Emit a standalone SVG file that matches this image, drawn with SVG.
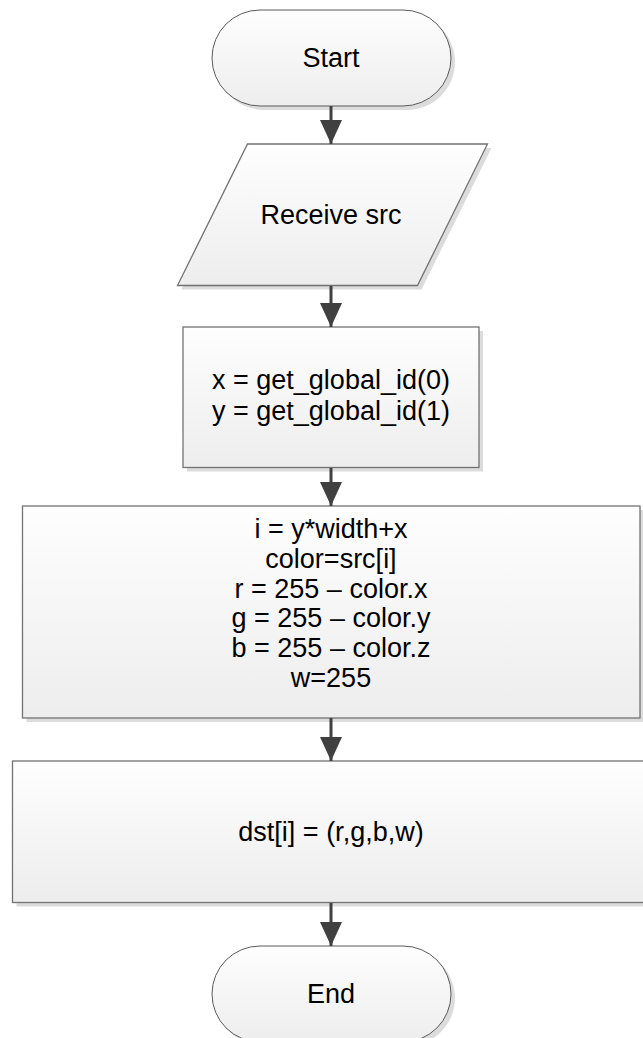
<svg xmlns="http://www.w3.org/2000/svg" width="643" height="1038" viewBox="0 0 643 1038">
  <defs>
    <linearGradient id="fillGrad" x1="0" y1="0" x2="0" y2="1">
      <stop offset="0" stop-color="#fefefe"/>
      <stop offset="1" stop-color="#ededed"/>
    </linearGradient>
    <marker id="arrowHead" markerUnits="userSpaceOnUse" markerWidth="26" markerHeight="24" viewBox="0 0 26 24" refX="24" refY="12" orient="auto">
      <path d="M0,1 L24,12 L0,23 Z" fill="#404040"/>
    </marker>
    <style>
      .shape { fill: url(#fillGrad); stroke: #727272; stroke-width: 1.3; }
      .term { fill: url(#fillGrad); stroke: #5a5a5a; stroke-width: 1; }
      .shadow { fill: #dcdcdc; stroke: none; }
      .label { font-family: "Liberation Sans", Arial, sans-serif; font-size: 27px; fill: #000; text-anchor: middle; }
      .edge { stroke: #404040; stroke-width: 3; fill: none; marker-end: url(#arrowHead); }
    </style>
  </defs>
  <rect width="643" height="1038" fill="#ffffff"/>

  <!-- Start terminator -->
  <g id="start">
    <path class="shadow" d="M264,14 H407 A48,48 0 0 1 407,110 H264 A48,48 0 0 1 264,14 Z"/>
    <path class="term" d="M260,10 H403 A48,48 0 0 1 403,106 H260 A48,48 0 0 1 260,10 Z"/>
    <text class="label" x="331" y="67">Start</text>
  </g>

  <!-- Input: receive source image -->
  <g id="receive">
    <polygon class="shadow" points="251.5,148 491.5,148 421.5,289.5 181.5,289.5"/>
    <polygon class="shape" points="247.5,144 487.5,144 417.5,285.5 177.5,285.5"/>
    <text class="label" x="331" y="224">Receive src</text>
  </g>

  <!-- Work-item coordinates -->
  <g id="coords">
    <rect class="shadow" x="187" y="331" width="296" height="140.5"/>
    <rect class="shape" x="183" y="327" width="296" height="140.5"/>
    <text class="label" x="331" y="389">x = get_global_id(0)</text>
    <text class="label" x="331" y="420">y = get_global_id(1)</text>
  </g>

  <!-- Colour inversion -->
  <g id="invert">
    <rect class="shadow" x="26.5" y="510" width="617.5" height="212"/>
    <rect class="shape" x="22.5" y="506" width="617.5" height="212"/>
    <text class="label" x="331" y="538">i = y*width+x</text>
    <text class="label" x="331" y="567.8">color=src[i]</text>
    <text class="label" x="331" y="597.6">r = 255 – color.x</text>
    <text class="label" x="331" y="627.4">g = 255 – color.y</text>
    <text class="label" x="331" y="657.2">b = 255 – color.z</text>
    <text class="label" x="331" y="687">w=255</text>
  </g>

  <!-- Write output pixel -->
  <g id="write">
    <rect class="shadow" x="16.5" y="765" width="637" height="141.5"/>
    <rect class="shape" x="12.5" y="761" width="637" height="141.5"/>
    <text class="label" x="331" y="840.5">dst[i] = (r,g,b,w)</text>
  </g>

  <!-- End terminator -->
  <g id="end">
    <path class="shadow" d="M264,950 H407 A48,48 0 0 1 407,1046 H264 A48,48 0 0 1 264,950 Z"/>
    <path class="term" d="M260,946 H403 A48,48 0 0 1 403,1042 H260 A48,48 0 0 1 260,946 Z"/>
    <text class="label" x="331" y="1003">End</text>
  </g>

  <!-- Connectors -->
  <g id="connectors">
    <line class="edge" x1="331" y1="106" x2="331" y2="144"/>
    <line class="edge" x1="331" y1="286" x2="331" y2="327"/>
    <line class="edge" x1="331" y1="468" x2="331" y2="506"/>
    <line class="edge" x1="331" y1="718" x2="331" y2="761"/>
    <line class="edge" x1="331" y1="903" x2="331" y2="946"/>
  </g>
</svg>
